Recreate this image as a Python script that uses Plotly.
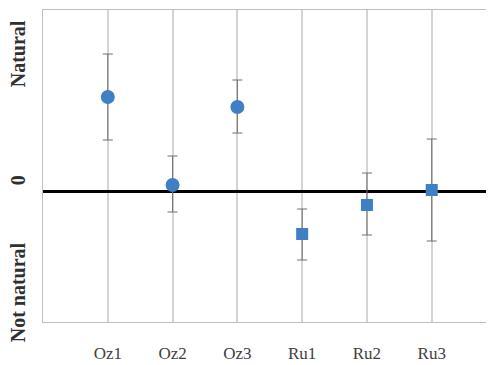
import plotly.graph_objects as go

categories = ["Oz1", "Oz2", "Oz3", "Ru1", "Ru2", "Ru3"]
oz_x = [1, 2, 3]
oz_mean = [0.94, 0.06, 0.84]
oz_err_plus = [0.43, 0.29, 0.27]
oz_err_minus = [0.43, 0.27, 0.26]
ru_x = [4, 5, 6]
ru_mean = [-0.43, -0.14, 0.01]
ru_err_plus = [0.25, 0.32, 0.51]
ru_err_minus = [0.26, 0.30, 0.51]

blue = "#3f7fc4"
err_col = "#6f6f6f"

fig = go.Figure()
fig.add_trace(go.Scatter(
    x=oz_x, y=oz_mean, mode="markers",
    marker=dict(symbol="circle", size=14, color=blue),
    error_y=dict(type="data", array=oz_err_plus, arrayminus=oz_err_minus,
                 color=err_col, thickness=1, width=5),
    showlegend=False))
fig.add_trace(go.Scatter(
    x=ru_x, y=ru_mean, mode="markers",
    marker=dict(symbol="square", size=12, color=blue),
    error_y=dict(type="data", array=ru_err_plus, arrayminus=ru_err_minus,
                 color=err_col, thickness=1, width=5),
    showlegend=False))

# page body has an 8px margin; compensate so the plot area lands where the reference has it
fig.update_layout(
    width=486, height=357,
    margin=dict(l=35, r=2, t=2, b=43, autoexpand=False),
    paper_bgcolor="white", plot_bgcolor="white",
    xaxis=dict(range=[0, 6.93], tickmode="array",
               tickvals=[1, 2, 3, 4, 5, 6], ticktext=categories,
               showgrid=True, gridcolor="#d4d4d4", gridwidth=2,
               showline=True, linecolor="#bfbfbf", linewidth=1, mirror=True,
               ticks="", ticklabelstandoff=16, automargin=False,
               tickfont=dict(family="Liberation Serif", size=17, color="#404040"),
               zeroline=False),
    yaxis=dict(range=[-1.31, 1.81], showgrid=False, showticklabels=False,
               showline=True, linecolor="#bfbfbf", linewidth=1, mirror=True,
               automargin=False,
               zeroline=True, zerolinecolor="black", zerolinewidth=3, ticks=""),
)

lab_font = dict(family="Liberation Serif", size=20, color="#303030")
fig.add_annotation(text="<b>Natural</b>", xref="paper", yref="y", x=-0.055, y=1.37,
                   textangle=-90, showarrow=False, font=lab_font, xanchor="center", yanchor="middle")
fig.add_annotation(text="<b>0</b>", xref="paper", yref="y", x=-0.055, y=0.11,
                   textangle=-90, showarrow=False, font=lab_font, xanchor="center", yanchor="middle")
fig.add_annotation(text="<b>Not natural</b>", xref="paper", yref="y", x=-0.055, y=-1.01,
                   textangle=-90, showarrow=False, font=lab_font, xanchor="center", yanchor="middle")

fig.write_html("out.html")
